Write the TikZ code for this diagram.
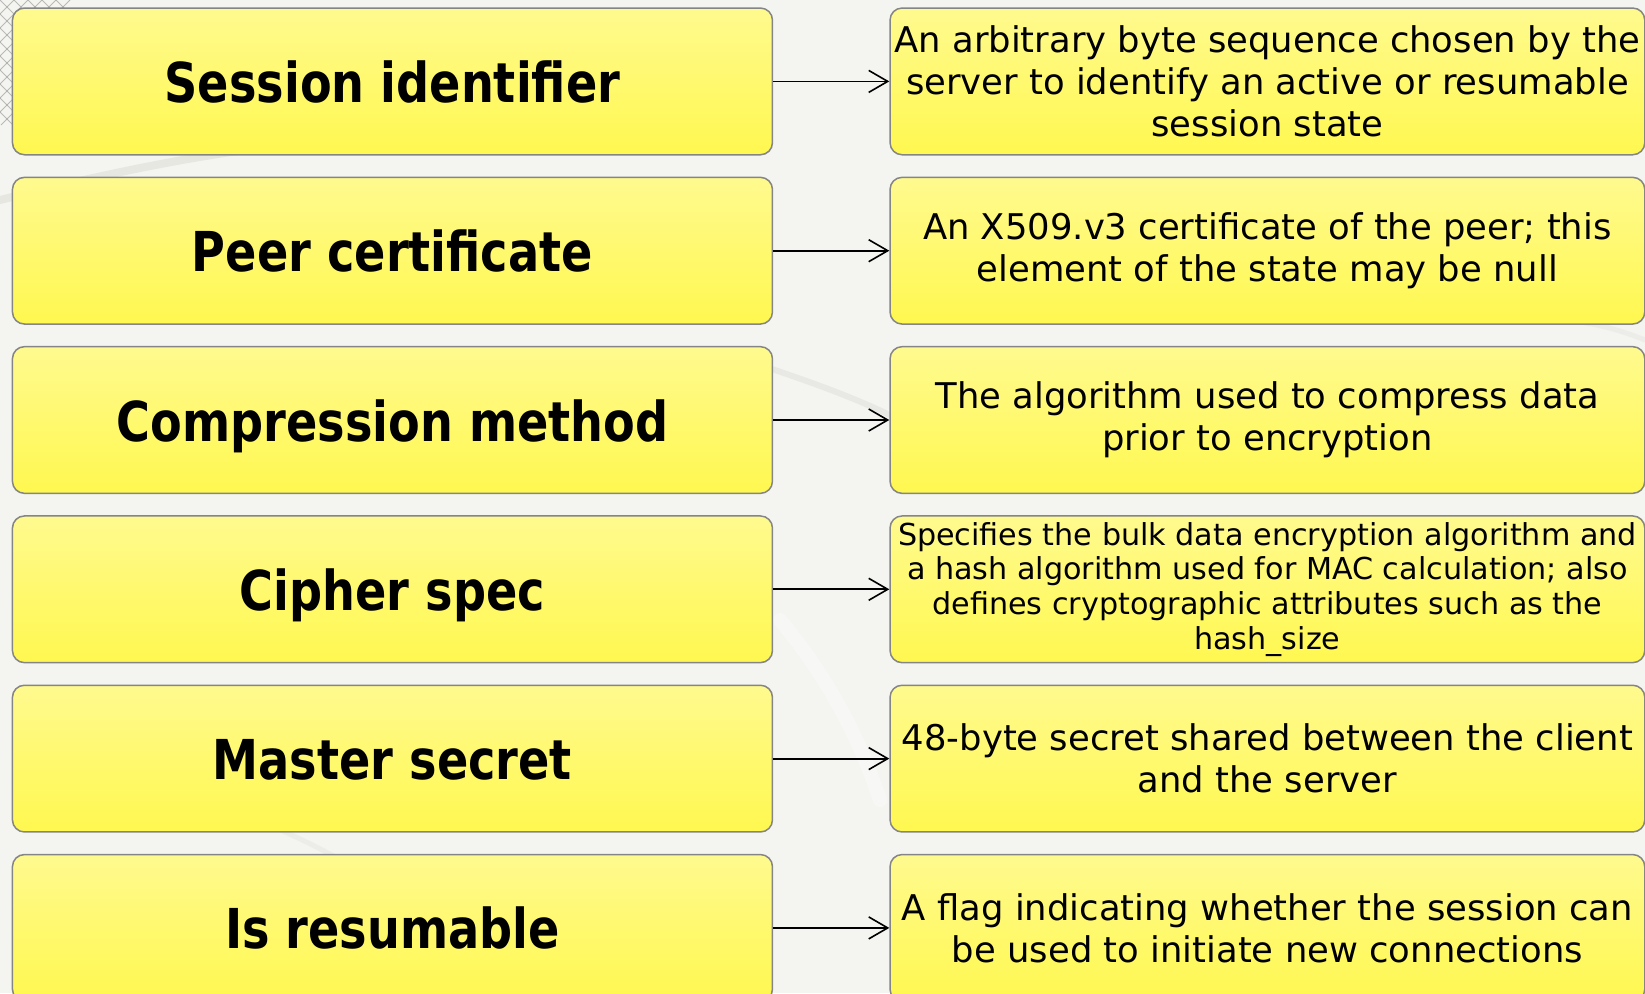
\documentclass[tikz,border=0pt]{standalone}
\usepackage{fontspec}
\setmainfont{DejaVu Sans}
\newfontfamily\headfont{DejaVu Sans Bold}[FakeStretch=0.84]
\usetikzlibrary{arrows.meta}

\definecolor{bgcol}{HTML}{F4F4F1}
\definecolor{swoosh}{HTML}{CFCFC8}
\definecolor{boxtop}{HTML}{FFFA8E}
\definecolor{boxbot}{HTML}{FFF850}
\definecolor{boxline}{HTML}{858585}

\tikzset{
  field/.style={draw=boxline, line width=1.5pt, rounded corners=12pt,
    top color=boxtop, bottom color=boxbot, anchor=north west,
    minimum width=760pt, minimum height=146.7pt, inner sep=0pt,
    text height=42pt, text depth=0pt,
    font=\headfont\fontsize{55}{66}\selectfont},
  descbox/.style={draw=boxline, line width=1.5pt, rounded corners=12pt,
    top color=boxtop, bottom color=boxbot, anchor=north west,
    minimum width=754.7pt, minimum height=146.7pt, inner sep=0pt,
    align=center, font=\fontsize{35.4}{42}\selectfont},
  smalldesc/.style={descbox, font=\fontsize{30.2}{34.6}\selectfont},
  link/.style={draw=black, line width=1.8pt,
    -{Straight Barb[length=19pt,width=22pt,line width=1.6pt]}}
}

\begin{document}
\begin{tikzpicture}[x=1pt,y=-1pt]
  % backdrop
  \fill[bgcol] (0,0) rectangle (1645,993);
  \useasboundingbox (0,0) rectangle (1645,993);
  \begin{scope}[line cap=round]
    \draw[swoosh, opacity=0.35, line width=8pt] (0,200) .. controls (120,170) and (220,150) .. (330,140);
    \draw[swoosh, opacity=0.3, line width=6pt] (760,365) .. controls (820,385) and (860,400) .. (900,420);
    \draw[swoosh, opacity=0.2, line width=5pt] (250,815) .. controls (300,840) and (330,850) .. (370,880);
    \draw[white, opacity=0.35, line width=14pt] (780,620) .. controls (830,680) and (860,740) .. (880,800);
    \draw[swoosh, opacity=0.2, line width=5pt] (1645,340) .. controls (1620,330) and (1600,325) .. (1580,322);
  \end{scope}
  % lace in the upper left corner
  \begin{scope}
    \clip (0,0) rectangle (70,125);
    \foreach \i in {-8,...,10} {
      \draw[gray, opacity=0.5, line width=0.8pt] (\i*14,0) -- (\i*14+125,125);
      \draw[gray, opacity=0.5, line width=0.8pt] (\i*14,0) -- (\i*14-125,125);
    }
  \end{scope}

  % session state fields
  \node[field] (L1) at (11.7,7.3)   {Session identifier};
  \node[field] (L2) at (11.7,176.6) {Peer certificate};
  \node[field] (L3) at (11.7,345.9) {Compression method};
  \node[field] (L4) at (11.7,515.2) {Cipher spec};
  \node[field] (L5) at (11.7,684.5) {Master secret};
  \node[field] (L6) at (11.7,853.8) {Is resumable};

  % descriptions
  \node[descbox] (R1) at (889.3,7.3)
    {An arbitrary byte sequence chosen by the\\server to identify an active or resumable\\session state};
  \node[descbox] (R2) at (889.3,176.6)
    {An X509.v3 certificate of the peer; this\\element of the state may be null};
  \node[descbox] (R3) at (889.3,345.9)
    {The algorithm used to compress data\\prior to encryption};
  \node[smalldesc] (R4) at (889.3,515.2)
    {Specifies the bulk data encryption algorithm and\\a hash algorithm used for MAC calculation; also\\defines cryptographic attributes such as the\\hash\_size};
  \node[descbox] (R5) at (889.3,684.5)
    {48-byte secret shared between the client\\and the server};
  \node[descbox] (R6) at (889.3,853.8)
    {A flag indicating whether the session can\\be used to initiate new connections};

  % connectors
  \foreach \k in {1,...,6} {
    \draw[link] (L\k.east) -- (R\k.west);
  }
\end{tikzpicture}
\end{document}
